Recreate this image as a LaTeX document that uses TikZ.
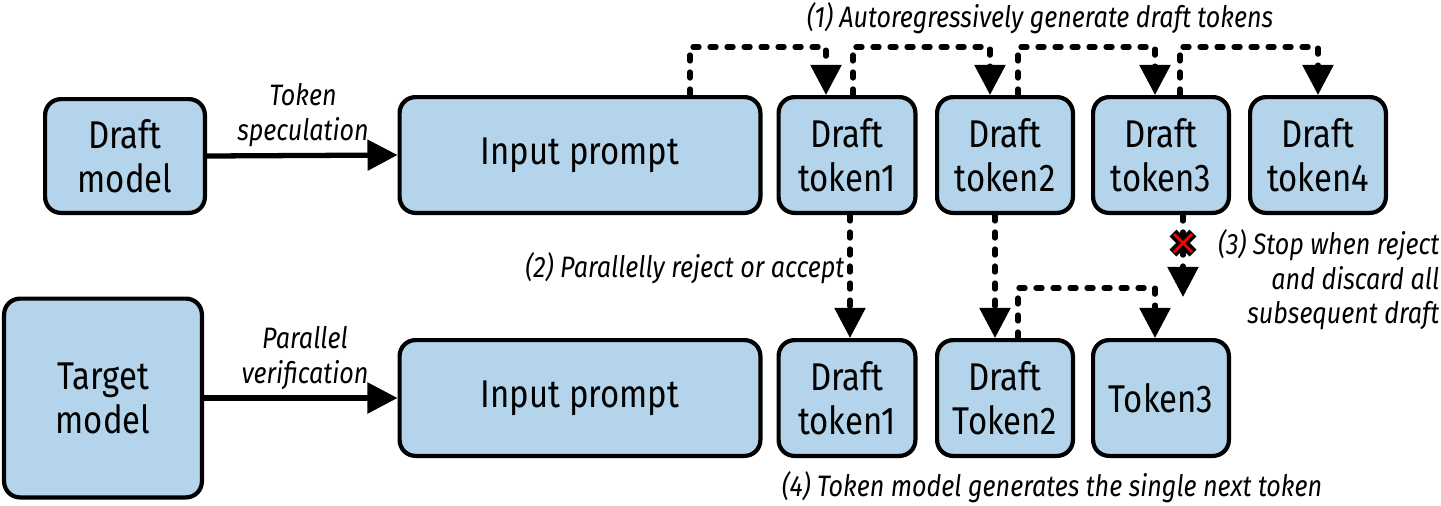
\documentclass[tikz,border=0pt]{standalone}
\usepackage{fontspec}
\setmainfont{Fira Sans}[FakeStretch=0.85]
\usetikzlibrary{arrows.meta,calc}
\definecolor{boxblue}{HTML}{B3D4EA}
\tikzset{
  box/.style={draw=black,fill=boxblue,line width=1.2pt,rounded corners=4.5pt,align=center,font=\fontsize{11}{12.5}\selectfont,inner sep=0pt},
  lbl/.style={font=\fontsize{8.4}{9.8}\selectfont\itshape,align=center,inner sep=0pt},
  tip/.style={-{Triangle[width=0.3cm,length=0.3cm]}},
  solidarrow/.style={tip,line width=1.5pt},
  dots/.style={line width=1.5pt,line cap=round,dash pattern=on 0.06cm off 0.11cm},
  dotarrow/.style={dots,tip},
}
\begin{document}
\begin{tikzpicture}[x=0.01cm,y=-0.01cm]
\useasboundingbox (0,0) rectangle (1441,505);
\newcommand{\bx}[6]{\node[box,minimum width=#4*0.01cm-1.2pt,minimum height=#5*0.01cm-1.2pt] (#1) at (#2,#3) {#6};}
\bx{dm}{125}{156}{164}{118}{Draft\\model}
\bx{ip1}{580}{155}{365}{120}{Input prompt}
\bx{t1}{847}{155}{141}{120}{Draft\\token1}
\bx{t2}{1005}{155}{140}{120}{Draft\\token2}
\bx{t3}{1161}{155}{140}{120}{Draft\\token3}
\bx{t4}{1318}{155}{140}{120}{Draft\\token4}
\bx{tm}{103}{398}{202}{203}{Target\\model}
\bx{ip2}{580}{398}{365}{120}{Input prompt}
\bx{b1}{847}{398}{141}{120}{Draft\\token1}
\bx{b2}{1005}{398}{140}{120}{Draft\\Token2}
\bx{b3}{1161}{398}{140}{120}{Token3}
\draw[solidarrow] (dm.east) -- (ip1.west);
\draw[solidarrow] (tm.east) -- (ip2.west);
\node[lbl] (ls) at (303,115) {Token\\speculation};
\node[lbl] (lp) at (305,358) {Parallel\\verification};
\node[lbl] (l1) at (1040,18) {(1) Autoregressively generate draft tokens};
\node[lbl,anchor=east] (l2) at (845,268) {(2) Parallelly reject or accept};
\node[lbl,anchor=east,align=right] (l3) at (1440,280) {(3) Stop when reject\\and discard all\\subsequent draft};
\node[lbl] (l4) at (1052,487) {(4) Token model generates the single next token};
\coordinate (a0) at (690,47); \coordinate (a1) at (853,47); \coordinate (a2) at (1018,47); \coordinate (a3) at (1180,47);
\draw[dotarrow] (ip1.north -| a0) |- (a0 -| 826,0) -- (t1.north -| 826,0);
\draw[dotarrow] (t1.north -| a1) |- (a1 -| 990,0) -- (t2.north -| 990,0);
\draw[dotarrow] (t2.north -| a2) |- (a2 -| 1155,0) -- (t3.north -| 1155,0);
\draw[dotarrow] (t3.north -| a3) |- (a3 -| 1318,0) -- (t4.north -| 1318,0);
\draw[dotarrow] (t1.south -| 850,0) -- (b1.north -| 850,0);
\draw[dotarrow] (t2.south -| 995,0) -- (b2.north -| 995,0);
\coordinate (c2) at (1018,288);
\draw[dotarrow] (b2.north -| c2) |- (c2 -| 1155,0) -- (b3.north -| 1155,0);
\coordinate (xend) at (1183,297);
\draw[dotarrow] (t3.south -| xend) -- (xend);
\coordinate (xc) at (1183,243);
\draw[line width=2.8pt,black] ($(xc)+(-10,-10)$) -- ($(xc)+(10,10)$) ($(xc)+(-10,10)$) -- ($(xc)+(10,-10)$);
\draw[line width=0.8pt,red] ($(xc)+(-9,-9)$) -- ($(xc)+(9,9)$) ($(xc)+(-9,9)$) -- ($(xc)+(9,-9)$);
\end{tikzpicture}
\end{document}
